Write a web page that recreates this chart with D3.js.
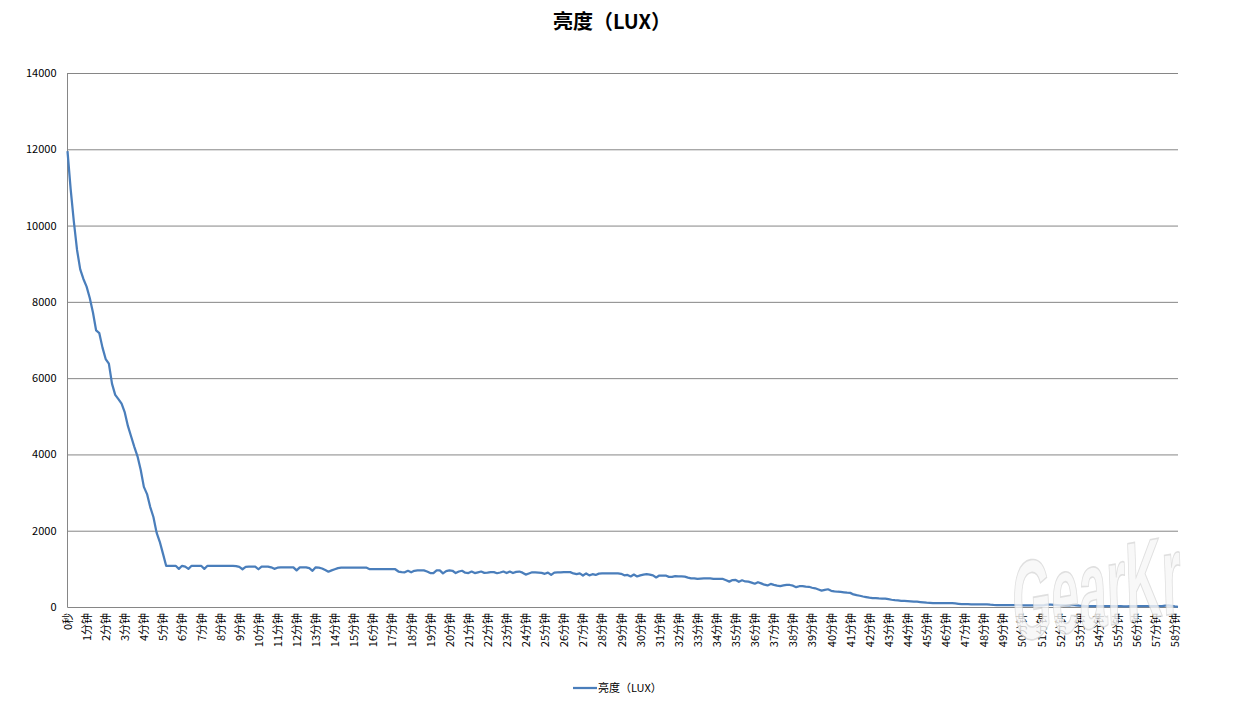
<!DOCTYPE html>
<html>
<head>
<meta charset="utf-8">
<script src="https://cdn.jsdelivr.net/npm/d3@7/dist/d3.min.js"></script>
<style>
  html, body { margin: 0; padding: 0; background: #fff; }
  svg { display: block; }
  text { font-family: "Noto Sans CJK SC", "Microsoft YaHei", sans-serif; }
</style>
</head>
<body>
<svg id="chart" width="1235" height="704"></svg>
<script>
// ---- data (one value every 10 seconds) ----
const seriesName = "亮度（LUX）";
const chartTitle = "亮度（LUX）";
const luxValues = [
  11950, 10950, 10100, 9360, 8850, 8600,
  8400, 8100, 7720, 7250, 7180, 6800,
  6500, 6380, 5850, 5560, 5450, 5330,
  5100, 4740, 4470, 4200, 3950, 3600,
  3150, 2960, 2620, 2360, 1950, 1710,
  1400, 1080, 1080, 1080, 1080, 1000,
  1080, 1060, 1000, 1080, 1080, 1080,
  1080, 1000, 1080, 1080, 1080, 1080,
  1080, 1080, 1080, 1080, 1080, 1070,
  1050, 990, 1050, 1060, 1060, 1060,
  990, 1060, 1060, 1060, 1040, 1000,
  1030, 1040, 1040, 1040, 1040, 1040,
  960, 1040, 1040, 1040, 1020, 950,
  1040, 1030, 1010, 970, 925, 960,
  990, 1020, 1030, 1030, 1030, 1030,
  1030, 1030, 1030, 1030, 1030, 990,
  990, 990, 990, 990, 990, 990,
  990, 990, 930, 915, 910, 950,
  910, 950, 960, 960, 960, 930,
  890, 890, 960, 960, 880, 940,
  960, 950, 890, 930, 950, 900,
  890, 930, 890, 910, 930, 895,
  900, 915, 915, 885, 905, 930,
  890, 930, 890, 920, 930, 900,
  850, 880, 910, 905, 900, 895,
  870, 900, 840, 900, 905, 910,
  915, 915, 915, 880, 860, 880,
  825, 880, 830, 860, 840, 875,
  880, 880, 880, 880, 880, 880,
  870, 830, 840, 800, 850, 800,
  830, 850, 860, 850, 830, 775,
  825, 825, 825, 790, 790, 810,
  805, 800, 795, 770, 752, 752,
  735, 745, 752, 752, 752, 740,
  735, 735, 735, 700, 665, 705,
  710, 660, 700, 670, 664, 640,
  610, 650, 620, 585, 565, 605,
  580, 560, 545, 565, 580, 577,
  560, 520, 545, 545, 533, 530,
  505, 490, 460, 430, 450, 465,
  425, 410, 400, 395, 385, 375,
  370, 330, 310, 295, 275, 260,
  245, 235, 230, 225, 222, 220,
  205, 190, 180, 172, 163, 160,
  155, 150, 143, 138, 130, 122,
  115, 110, 102, 100, 100, 100,
  100, 100, 100, 95, 85, 75,
  75, 75, 72, 72, 70, 70,
  70, 68, 60, 55, 52, 52,
  52, 52, 50, 50, 50, 50,
  45, 45, 45, 45, 45, 45,
  45, 50, 60, 60, 55, 50,
  45, 40, 40, 45, 55, 45,
  35, 30, 25, 20, 20, 20,
  20, 22, 25, 22, 20, 20,
  20, 20, 18, 18, 20, 22,
  20, 20, 20, 22, 20, 20,
  20, 20, 25, 35, 40, 30,
  15, 5
];
const tickLabels = [
  "0秒","1分钟","2分钟","3分钟","4分钟","5分钟","6分钟","7分钟","8分钟","9分钟",
  "10分钟","11分钟","12分钟","13分钟","14分钟","15分钟","16分钟","17分钟","18分钟","19分钟",
  "20分钟","21分钟","22分钟","23分钟","24分钟","25分钟","26分钟","27分钟","28分钟","29分钟",
  "30分钟","31分钟","32分钟","33分钟","34分钟","35分钟","36分钟","37分钟","38分钟","39分钟",
  "40分钟","41分钟","42分钟","43分钟","44分钟","45分钟","46分钟","47分钟","48分钟","49分钟",
  "50分钟","51分钟","52分钟","53分钟","54分钟","55分钟","56分钟","57分钟","58分钟"
];
const yTicks = [0, 2000, 4000, 6000, 8000, 10000, 12000, 14000];
const pointsPerLabel = 6;

// ---- layout ----
const plotLeft = 67.5, plotRight = 1178, plotTop = 73, plotBottom = 607;
const svg = d3.select("#chart");

const x = d3.scaleLinear().domain([0, luxValues.length - 1]).range([plotLeft, plotRight]);
const y = d3.scaleLinear().domain([0, 14000]).range([plotBottom, plotTop]);
const gridColor = "#868686";
const lineColor = "#4a7ebb";

// title
svg.append("text")
  .attr("x", 612).attr("y", 29)
  .attr("text-anchor", "middle")
  .attr("font-size", 20).attr("font-weight", "bold")
  .attr("fill", "#000")
  .text(chartTitle);

// gridlines + y axis
const yAxis = d3.axisLeft(y).tickValues(yTicks).tickSize(-(plotRight - plotLeft)).tickFormat(d3.format("d"));
const gy = svg.append("g").attr("transform", `translate(${plotLeft},0)`).call(yAxis);
gy.select(".domain").remove();
gy.selectAll(".tick line").attr("stroke", gridColor).attr("stroke-width", 1);
gy.selectAll(".tick text").attr("x", -11).attr("font-size", 11).attr("fill", "#000")
  .style("font-family", "\"Noto Sans CJK SC\", sans-serif");

// vertical axis line
svg.append("line")
  .attr("x1", plotLeft).attr("x2", plotLeft).attr("y1", y(14000)).attr("y2", y(0))
  .attr("stroke", gridColor).attr("stroke-width", 1);

// x axis
const tickIdx = tickLabels.map((_, k) => k * pointsPerLabel);
const xAxis = d3.axisBottom(x).tickValues(tickIdx).tickSize(0)
  .tickFormat((d, k) => tickLabels[k]);
const gx = svg.append("g").attr("transform", `translate(0,${plotBottom})`).call(xAxis);
gx.select(".domain").attr("stroke", gridColor).attr("d", `M${plotLeft},0.5H${plotRight}`);
gx.selectAll(".tick text")
  .attr("font-size", 11).attr("fill", "#000")
  .attr("text-anchor", "end")
  .attr("transform", "rotate(-90)")
  .attr("x", -6).attr("y", 0).attr("dy", "0.35em");

// the line
const line = d3.line().x((d, i) => x(i)).y(d => y(d));
svg.append("path")
  .datum(luxValues)
  .attr("fill", "none")
  .attr("stroke", lineColor)
  .attr("stroke-width", 2.25)
  .attr("stroke-linejoin", "round")
  .attr("d", line);

// legend
const lg = svg.append("g").attr("transform", "translate(573,688)");
lg.append("line").attr("x1", 0).attr("x2", 24).attr("y1", 0).attr("y2", 0)
  .attr("stroke", lineColor).attr("stroke-width", 2.25);
lg.append("text").attr("x", 25).attr("y", 4).attr("font-size", 11).attr("fill", "#000")
  .text(seriesName);

// watermark
svg.append("text")
  .attr("transform", "translate(1014,642) rotate(-10) skewX(-8) scale(0.45,1)")
  .attr("font-size", 112)
  .attr("font-weight", "bold")
  .style("font-family", "\"Liberation Sans Narrow\", \"Liberation Sans\", sans-serif")
  .attr("fill", "#f7f7f7")
  .attr("stroke", "#d8d8d8")
  .attr("stroke-width", 1.6)
  .attr("opacity", 0.8)
  .text("GearKr");
</script>
</body>
</html>
